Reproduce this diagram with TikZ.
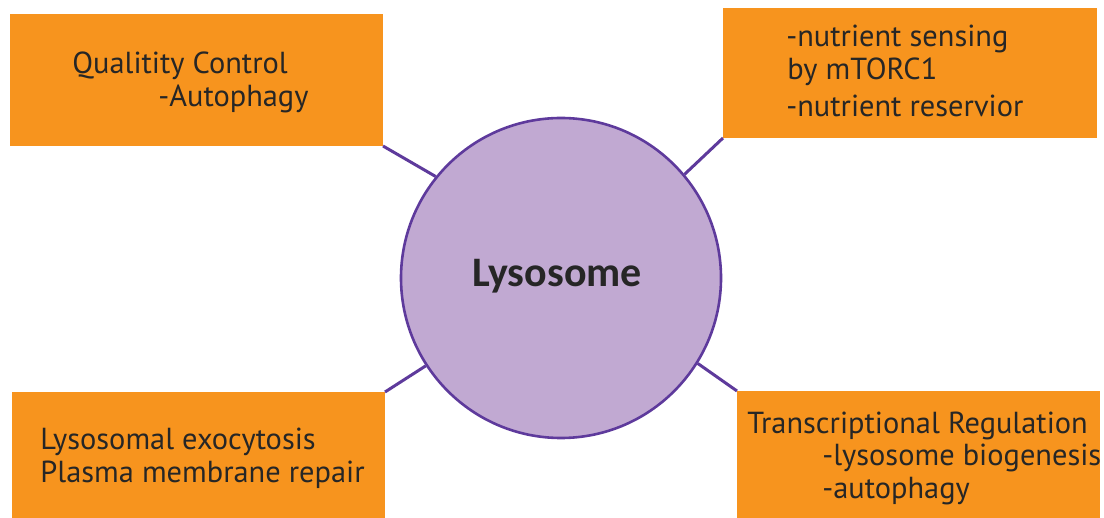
\documentclass[tikz,border=0pt]{standalone}
\usepackage{fontspec}
\setmainfont{PT Sans}
\newfontfamily\lysofont{Carlito}
\usetikzlibrary{positioning}
\definecolor{boxorange}{HTML}{F7941E}
\definecolor{lysofill}{HTML}{C1A9D2}
\definecolor{lysoline}{HTML}{5E3A9C}
\tikzset{
  infobox/.style={fill=boxorange, draw=none, inner sep=0pt, outer sep=0pt},
  infotext/.style={anchor=base west, inner sep=0pt, text=black!85, font=\fontsize{15.2}{18}\selectfont},
  link/.style={draw=lysoline, line width=1.5pt}
}

\begin{document}
\begin{tikzpicture}[x=0.5pt, y=-0.5pt]
    \useasboundingbox (0, 0) rectangle (1104, 518);

    % boxes round the lysosome
    \node [infobox, minimum width=186.5pt, minimum height=66pt] (qc) at (196.5, 80) {};
    \node [infobox, minimum width=187pt, minimum height=65pt] (nutrient) at (910, 73) {};
    \node [infobox, minimum width=186.5pt, minimum height=64pt] (exo) at (198.5, 456) {};
    \node [infobox, minimum width=181.5pt, minimum height=64.5pt] (transcr) at (918.5, 455.5) {};

    \node [circle, fill=lysofill, draw=lysoline, line width=1.3pt, minimum size=160pt, inner sep=0pt] (lyso) at (561, 278) {};
    \node [anchor=base, text=black!85, font=\lysofont\bfseries\fontsize{21}{24}\selectfont] (lysolabel) at (557, 287) {Lysosome};

    % texts
    \node [infotext] (qc1) at (72, 74) {Qualitity Control};
    \node [infotext] (qc2) at (158, 107) {-Autophagy};
    \node [infotext] (nut1) at (786, 47) {-nutrient sensing};
    \node [infotext] (nut2) at (787, 80) {by mTORC1};
    \node [infotext] (nut3) at (786, 117) {-nutrient reservior};
    \node [infotext] (exo1) at (40, 450) {Lysosomal exocytosis};
    \node [infotext] (exo2) at (40, 482) {Plasma membrane repair};
    \node [infotext] (tr1) at (747, 434) {Transcriptional Regulation};
    \node [infotext] (tr2) at (822, 466) {-lysosome biogenesis};
    \node [infotext] (tr3) at (822, 498) {-autophagy};

    % connectors
    \draw [link] (qc.south east) -- (lyso.141.6);
    \draw [link] (nutrient.south west) -- (lyso.40.3);
    \draw [link] (exo.north east) -- (lyso.213.9);
    \draw [link] (transcr.north west) -- (lyso.-32.4);
\end{tikzpicture}
\end{document}
